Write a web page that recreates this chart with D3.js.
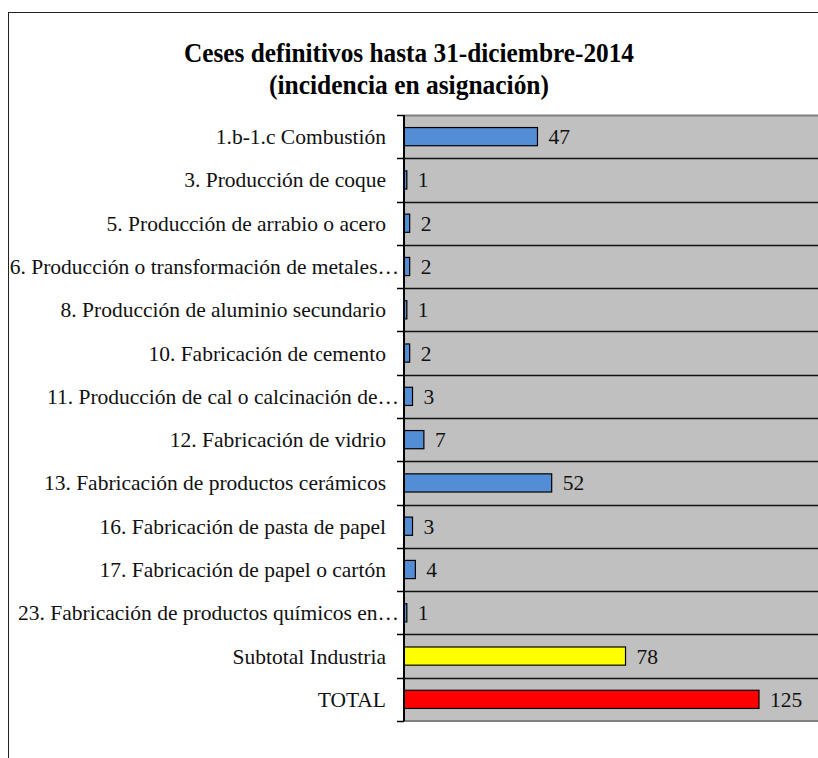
<!DOCTYPE html>
<html>
  <head>
    <script src="https://d3js.org/d3.v7.min.js"></script>
    <style>
      body { margin: 0; background: #fff; }
      svg text { font-family: "Liberation Serif", "Times New Roman", "DejaVu Serif", serif; }
    </style>
  </head>
  <body>
    <div id="chart"></div>
    <script>
      // Data
      const categories = [
        "1.b-1.c Combustión",
        "3. Producción de coque",
        "5. Producción de arrabio o acero",
        "6. Producción o transformación de metales…",
        "8. Producción de aluminio secundario",
        "10. Fabricación de cemento",
        "11. Producción de cal o calcinación de…",
        "12. Fabricación de vidrio",
        "13. Fabricación de productos cerámicos",
        "16. Fabricación de pasta de papel",
        "17. Fabricación de papel o cartón",
        "23. Fabricación de productos químicos en…",
        "Subtotal Industria",
        "TOTAL"
      ];
      const values = [47, 1, 2, 2, 1, 2, 3, 7, 52, 3, 4, 1, 78, 125];
      const barColors = [
        "#538dd5", "#538dd5", "#538dd5", "#538dd5", "#538dd5", "#538dd5", "#538dd5",
        "#538dd5", "#538dd5", "#538dd5", "#538dd5", "#538dd5", "#ffff00", "#ff0000"
      ];
      const xDomain = [0, 140];
      const titleLines = ["Ceses definitivos hasta 31-diciembre-2014", "(incidencia en asignación)"];

      const W = 818, H = 758;
      const plot = { left: 404, top: 115, bottom: 721, right: 818 };
      const serif = "Liberation Serif, Times New Roman, DejaVu Serif, serif";

      const svg = d3.select("#chart").append("svg")
        .attr("width", W)
        .attr("height", H);

      // outer frame (cut off at right/bottom like the reference)
      svg.append("rect")
        .attr("x", 8.5).attr("y", 12.5)
        .attr("width", W + 10).attr("height", H + 10)
        .attr("fill", "none").attr("stroke", "#222").attr("stroke-width", 1);

      // Title (condensed like the original)
      const titleWidths = [450, 280];
      svg.append("g").selectAll("text")
        .data(titleLines)
        .join("text")
        .attr("x", 409)
        .attr("y", (d, i) => 62 + i * 32)
        .attr("text-anchor", "middle")
        .attr("font-family", serif)
        .attr("font-size", 28)
        .attr("font-weight", "bold")
        .attr("textLength", (d, i) => titleWidths[i])
        .attr("lengthAdjust", "spacingAndGlyphs")
        .text(d => d);

      const x = d3.scaleLinear().domain(xDomain).range([plot.left, plot.left + 397.6]);
      const y = d3.scaleBand().domain(categories).range([plot.top, plot.bottom]).padding(0);
      const barH = y.bandwidth() * 0.42;

      // plot background
      svg.append("rect")
        .attr("x", plot.left).attr("y", plot.top)
        .attr("width", plot.right - plot.left).attr("height", plot.bottom - plot.top)
        .attr("fill", "#c0c0c0");
      svg.append("line")
        .attr("x1", plot.left).attr("x2", plot.right)
        .attr("y1", plot.top + 0.5).attr("y2", plot.top + 0.5)
        .attr("stroke", "#808080").attr("stroke-width", 2);
      svg.append("line")
        .attr("x1", plot.left).attr("x2", plot.right)
        .attr("y1", plot.bottom).attr("y2", plot.bottom)
        .attr("stroke", "#808080").attr("stroke-width", 2);

      // horizontal gridlines between categories
      svg.append("g").selectAll("line")
        .data(categories.slice(1))
        .join("line")
        .attr("x1", plot.left).attr("x2", plot.right)
        .attr("y1", d => Math.round(y(d)) + 0.5)
        .attr("y2", d => Math.round(y(d)) + 0.5)
        .attr("stroke", "#111").attr("stroke-width", 1.5);

      // bars
      svg.append("g").selectAll("rect")
        .data(values)
        .join("rect")
        .attr("x", x(0))
        .attr("y", (d, i) => y(categories[i]) + (y.bandwidth() - barH) / 2)
        .attr("width", d => x(d) - x(0))
        .attr("height", barH)
        .attr("fill", (d, i) => barColors[i])
        .attr("stroke", "#000").attr("stroke-width", 1.2);

      // value labels
      svg.append("g").selectAll("text")
        .data(values)
        .join("text")
        .attr("x", d => x(d) + 11)
        .attr("y", (d, i) => y(categories[i]) + y.bandwidth() / 2)
        .attr("dy", "0.35em")
        .attr("font-family", serif)
        .attr("font-size", 21.5)
        .attr("fill", "#111")
        .text(d => d);

      // left axis with ticks at category boundaries
      const axisG = svg.append("g");
      axisG.append("line")
        .attr("x1", plot.left).attr("x2", plot.left)
        .attr("y1", plot.top).attr("y2", plot.bottom)
        .attr("stroke", "#000").attr("stroke-width", 2);
      const boundaries = categories.map(c => y(c)).concat([plot.bottom]);
      axisG.selectAll("line.tick")
        .data(boundaries)
        .join("line")
        .attr("class", "tick")
        .attr("x1", plot.left - 7).attr("x2", plot.left)
        .attr("y1", d => Math.round(d) + 0.5).attr("y2", d => Math.round(d) + 0.5)
        .attr("stroke", "#000").attr("stroke-width", 1.5);

      // category labels; truncated ones let the ellipsis hang toward the axis
      axisG.selectAll("text")
        .data(categories)
        .join("text")
        .attr("x", d => d.endsWith("…") ? 399 : 386)
        .attr("y", d => y(d) + y.bandwidth() / 2)
        .attr("dy", "0.35em")
        .attr("text-anchor", "end")
        .attr("font-family", serif)
        .attr("font-size", 21.5)
        .attr("fill", "#111")
        .text(d => d);
    </script>
  </body>
</html>
